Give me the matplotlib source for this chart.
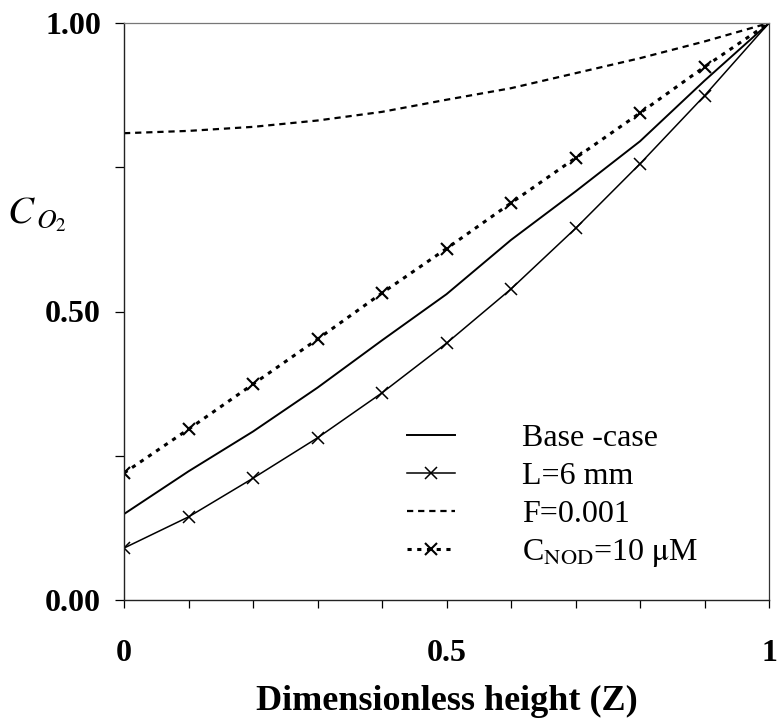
import matplotlib
matplotlib.use("Agg")
import matplotlib.pyplot as plt
import numpy as np

plt.rcParams['font.family'] = ['Liberation Serif', 'DejaVu Serif']
plt.rcParams['mathtext.fontset'] = 'stix'
plt.rcParams['lines.scale_dashes'] = False

z = [0.0, 0.1, 0.2, 0.3, 0.4, 0.5, 0.6, 0.7, 0.8, 0.9, 1.0]
base_case = [0.149, 0.223, 0.292, 0.368, 0.450, 0.530, 0.624, 0.708, 0.795, 0.900, 1.0]
l_6mm = [0.090, 0.144, 0.211, 0.281, 0.359, 0.445, 0.539, 0.644, 0.756, 0.874, 1.0]
f_0001 = [0.809, 0.813, 0.820, 0.831, 0.846, 0.867, 0.887, 0.913, 0.939, 0.968, 1.0]
c_nod = [0.220, 0.296, 0.374, 0.452, 0.532, 0.609, 0.688, 0.766, 0.844, 0.924, 1.0]

labels = ['Base -case', 'L=6 mm', 'F=0.001', r'C$_{\mathrm{NOD}}$=10 $\mathrm{\mu}$M']

x_major = [0, 0.5, 1]
x_major_labels = ['0', '0.5', '1']
y_major = [0.0, 0.5, 1.0]
y_major_labels = ['0.00', '0.50', '1.00']

fig = plt.figure(figsize=(7.79, 7.21), dpi=100)
ax = fig.add_axes([124/779, 1-600/721, 645/779, 577/721])

ax.plot(z, base_case, color='black', lw=1.4, label=labels[0])
ax.plot(z, l_6mm, color='black', lw=1.1, marker='x', ms=8, mew=1.1, label=labels[1])
ax.plot(z, f_0001, color='black', lw=1.6, dashes=(4.5, 3.5), label=labels[2])
ax.plot(z, c_nod, color='black', lw=2.2, dashes=(3, 4), marker='x', ms=8, mew=1.5, label=labels[3])

ax.set_xlim(0, 1)
ax.set_ylim(0, 1)

ax.set_xticks(np.arange(0, 1.0001, 0.1), minor=True)
ax.set_xticks(x_major)
ax.set_xticklabels(x_major_labels, fontsize=23, fontweight='bold')
ax.set_yticks([0.25, 0.75], minor=True)
ax.set_yticks(y_major)
ax.set_yticklabels(y_major_labels, fontsize=23, fontweight='bold')

ax.tick_params(axis='x', which='both', direction='out', length=6, width=0.9, pad=22)
ax.tick_params(axis='y', which='both', direction='out', length=6.5, width=0.9, pad=10)

for side in ['left', 'bottom']:
    ax.spines[side].set_linewidth(1.0)
    ax.spines[side].set_color('#222222')
for side in ['top', 'right']:
    ax.spines[side].set_linewidth(0.9)
    ax.spines[side].set_color('#777777')
ax.spines['right'].set_color('#333333')

ax.set_xlabel('Dimensionless height (Z)', fontsize=26, fontweight='bold', labelpad=12)
ax.set_ylabel(r'$C_{\,O_2}$', fontsize=28, rotation=0)
ax.yaxis.set_label_coords(-0.135, 0.635)

leg = ax.legend(loc='upper left', bbox_to_anchor=((407-124)/645, (600-424)/577),
                frameon=False, fontsize=23, handlelength=1.5, handletextpad=2.1,
                labelspacing=0.26, numpoints=1, borderaxespad=0, borderpad=0)

fig.savefig('out.png', dpi=100)
